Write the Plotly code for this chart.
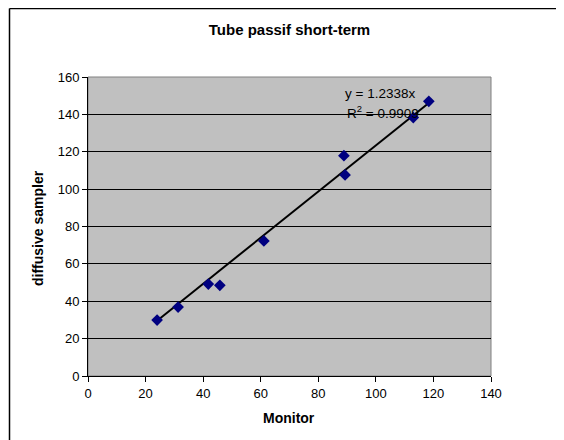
import plotly.graph_objects as go

monitor = [24.0, 31.3, 41.8, 45.8, 61.1, 88.9, 89.3, 113.0, 118.4]
diffusive = [29.9, 36.9, 49.2, 48.5, 72.3, 117.9, 107.6, 138.3, 147.0]
slope = 1.2338
r2 = 0.9909
title = "Tube passif short-term"
x_title = "Monitor"
y_title = "diffusive sampler"

FONT = "Liberation Sans, Arial, sans-serif"
OFF = 8  # page body margin
W, H = 564 - OFF, 440 - OFF
L, T = 88 - OFF, 77 - OFF
R = W - (491 - OFF)
B = H - (376 - OFF)
PW, PH = W - L - R, H - T - B


def px_x(p):
    return (p - OFF - L) / PW


def px_y(p):
    return (H - B - (p - OFF)) / PH


trend_x = [min(monitor), max(monitor)]
trend_y = [slope * v for v in trend_x]

fig = go.Figure()
fig.add_trace(go.Scatter(x=trend_x, y=trend_y, mode="lines",
                         line=dict(color="black", width=2), showlegend=False,
                         hoverinfo="skip"))
fig.add_trace(go.Scatter(x=monitor, y=diffusive, mode="markers",
                         marker=dict(symbol="diamond", size=9, color="#000080",
                                     line=dict(width=0)),
                         showlegend=False))

fig.update_layout(
    width=W, height=H,
    margin=dict(l=L, r=R, t=T, b=B),
    paper_bgcolor="white", plot_bgcolor="#C0C0C0",
    font=dict(family=FONT, size=13, color="black"),
    title=dict(text="<b>" + title + "</b>", x=0.5, xref="paper", xanchor="center",
               y=1 - (30 - OFF)/H, yanchor="middle", font=dict(size=15)),
    xaxis=dict(range=[0, 140], dtick=20, showgrid=False, zeroline=False,
               showline=True, linecolor="black", linewidth=1, automargin=False,
               ticks="outside", ticklen=5, tickcolor="black",
               tickfont=dict(size=13)),
    yaxis=dict(range=[0, 160], dtick=20, showgrid=True, gridcolor="black",
               gridwidth=1, zeroline=False, automargin=False,
               showline=True, linecolor="black", linewidth=1,
               ticks="outside", ticklen=5, tickcolor="black",
               tickfont=dict(size=13)),
    shapes=[
        dict(type="rect", xref="paper", yref="paper", x0=0, x1=1, y0=0, y1=1,
             line=dict(color="#808080", width=1), layer="below"),
        dict(type="line", xref="paper", yref="paper", x0=px_x(9.5), x1=px_x(600),
             y0=px_y(8.5), y1=px_y(8.5), line=dict(color="black", width=1.5)),
        dict(type="line", xref="paper", yref="paper", x0=px_x(9.5), x1=px_x(9.5),
             y0=px_y(8.5), y1=px_y(500), line=dict(color="black", width=1.5)),
    ],
    annotations=[
        dict(text="y = %.4fx" % slope, x=88.6, y=151.3,
             xref="x", yref="y", showarrow=False,
             xanchor="left", yanchor="middle", font=dict(size=13.5)),
        dict(text="R<sup>2</sup> = %.4f" % r2, x=89.3, y=141.1,
             xref="x", yref="y", showarrow=False,
             xanchor="left", yanchor="middle", font=dict(size=13.5)),
        dict(text="<b>" + x_title + "</b>", x=px_x(289), y=px_y(418),
             xref="paper", yref="paper", showarrow=False,
             xanchor="center", yanchor="middle", font=dict(size=14)),
        dict(text="<b>" + y_title + "</b>", x=px_x(38), y=px_y(228),
             xref="paper", yref="paper", showarrow=False, textangle=-90,
             xanchor="center", yanchor="middle", font=dict(size=14)),
    ],
)

fig.write_html("out.html",
               post_script="document.body.style.overflow='hidden';")
